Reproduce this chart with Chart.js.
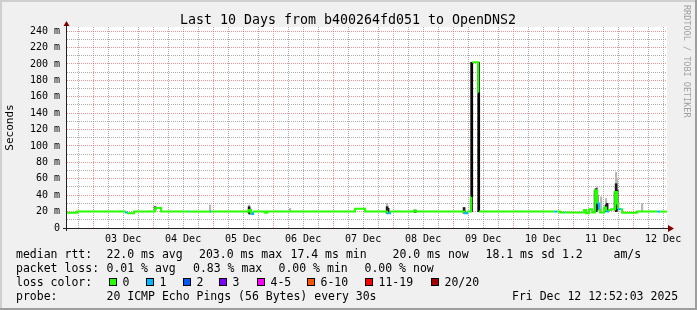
<!DOCTYPE html>
<html>
<head>
<meta charset="utf-8">
<script src="https://cdn.jsdelivr.net/npm/chart.js@4/dist/chart.umd.min.js"></script>
<style>
  html, body { margin: 0; padding: 0; background: #f0f0f0; }
</style>
</head>
<body>
<canvas id="smokeChart" width="697" height="310"></canvas>
<script>
// x values are days of December (3.5 = 03 Dec 12:00)
const dayLabels = ['03 Dec', '04 Dec', '05 Dec', '06 Dec', '07 Dec', '08 Dec', '09 Dec', '10 Dec', '11 Dec', '12 Dec'];
const xStart = 2.565;
const xEnd = 12.565;
const yMax = 245;

// median rtt (ms), drawn as steps, and lost pings (of 20) per step
const medianTime = [2.567, 2.733, 3.533, 3.567, 3.683, 4.033, 4.133, 4.583, 4.600, 4.950,
  4.967, 5.600, 5.633, 5.667, 5.867, 5.900, 7.367, 7.533, 7.900, 7.950,
  8.350, 8.383, 9.183, 9.233, 9.300, 9.317, 9.417, 9.433, 10.683, 10.733,
  10.783, 10.850, 10.867, 11.183, 11.217, 11.267, 11.317, 11.367, 11.400, 11.433,
  11.450, 11.517, 11.550, 11.583, 11.633, 11.700, 11.733, 11.750, 11.800, 11.817,
  12.067, 12.400, 12.450, 12.565];
const medianMs = [18.5, 20, 19, 18, 20, 24.5, 20, 20, 20, 20,
  20, 22, 17, 20, 18.5, 20, 23.5, 20, 18, 20,
  21, 20, 18, 20, 39, 202, 164, 20, 20, 20,
  19, 19, 19, 22, 18, 23, 19, 46, 30, 22,
  19, 25, 20, 22, 23, 44, 30, 23, 23, 18.5,
  20, 20, 20, 20];
const medianLoss = [0, 0, 1, 0, 0, 0, 0, 1, 0, 1,
  0, 0, 1, 0, 0, 0, 0, 0, 1, 0,
  0, 0, 1, 0, 0, 0, 0, 0, 1, 0,
  0, 1, 0, 0, 0, 0, 0, 0, 1, 0,
  0, 0, 1, 0, 0, 0, 0, 1, 0, 0,
  0, 1, 0, 0];

// smoke: outer spread of the pings (light) and inner spread (dark)
const smokeTime = [4.950, 5.600, 6.283, 7.900, 11.400, 11.467, 11.550, 11.717, 11.733, 12.150];
const smokeLo = [19, 17, 20, 18, 20, 21, 20, 20, 20, 21];
const smokeHi = [28, 28, 24, 30, 50, 38, 36, 68, 60, 30];
const coreTime = [4.033, 5.600, 5.617, 7.900, 7.917, 8.367, 9.183, 9.308, 9.425,
  11.367, 11.383, 11.400, 11.550, 11.567, 11.700, 11.717, 11.733];
const coreLo = [22, 18, 17, 18, 18, 19, 18, 20, 20, 20, 20, 22, 20, 21, 22, 20, 22];
const coreHi = [26, 26, 23, 26, 24, 22, 25, 202, 202, 46, 48, 40, 28, 30, 44, 54, 46];

// legend texts
const titleText = 'Last 10 Days from b400264fd051 to OpenDNS2';
const rttStats = ['22.0 ms avg', '203.0 ms max', '17.4 ms min', '20.0 ms now', '18.1 ms sd', '1.2', 'am/s'];
const lossStats = ['0.01 % avg', '0.83 % max', '0.00 % min', '0.00 % now'];
const lossLabels = ['0', '1', '2', '3', '4-5', '6-10', '11-19', '20/20'];
const lossColors = ['#26ff00', '#00b8ff', '#0059ff', '#7e00ff', '#ff00ff', '#ff5500', '#ff0000', '#a10000'];
const probeText = '20 ICMP Echo Pings (56 Bytes) every 30s';
const stampText = 'Fri Dec 12 12:52:03 2025';

const GRID = 'rgba(143,143,143,0.75)';
const MGRID = 'rgba(222,79,79,0.6)';
const MONO = '"DejaVu Sans Mono", monospace';

function lossColor(n) {
    if (n <= 3) return lossColors[n];
    if (n <= 5) return lossColors[4];
    if (n <= 10) return lossColors[5];
    if (n <= 19) return lossColors[6];
    return lossColors[7];
}

const framePlugin = {
    id: 'frame',
    beforeDraw(chart) {
        const { ctx, chartArea: a, width, height } = chart;
        ctx.save();
        ctx.fillStyle = '#f0f0f0';
        ctx.fillRect(0, 0, width, height);
        ctx.fillStyle = '#cfcfcf';
        ctx.fillRect(0, 0, width, 2);
        ctx.fillRect(0, 0, 2, height);
        ctx.fillStyle = '#9e9e9e';
        ctx.fillRect(0, height - 2, width, 2);
        ctx.fillRect(width - 2, 0, 2, height);
        ctx.fillStyle = '#ffffff';
        ctx.fillRect(a.left, a.top, a.right - a.left, a.bottom - a.top);
        ctx.restore();
    },
    afterDraw(chart) {
        const { ctx, chartArea: a } = chart;
        ctx.save();

        // axes with arrows
        ctx.strokeStyle = '#212121';
        ctx.lineWidth = 1;
        ctx.beginPath();
        ctx.moveTo(a.left - 0.5, a.bottom + 3);
        ctx.lineTo(a.left - 0.5, a.top - 1);
        ctx.moveTo(a.left - 4, a.bottom + 0.5);
        ctx.lineTo(a.right + 3, a.bottom + 0.5);
        ctx.stroke();
        ctx.fillStyle = '#800000';
        ctx.beginPath();
        ctx.moveTo(a.left - 3.5, a.top - 1);
        ctx.lineTo(a.left + 2.5, a.top - 1);
        ctx.lineTo(a.left - 0.5, a.top - 6);
        ctx.closePath();
        ctx.fill();
        ctx.beginPath();
        ctx.moveTo(a.right + 1, a.bottom - 3);
        ctx.lineTo(a.right + 1, a.bottom + 4);
        ctx.lineTo(a.right + 7, a.bottom + 0.5);
        ctx.closePath();
        ctx.fill();

        // title
        ctx.fillStyle = '#000';
        ctx.textBaseline = 'alphabetic';
        ctx.textAlign = 'center';
        ctx.font = '13.3px ' + MONO;
        ctx.fillText(titleText, 348, 24);

        // watermark
        ctx.save();
        ctx.translate(684, 5);
        ctx.rotate(Math.PI / 2);
        ctx.textAlign = 'left';
        ctx.fillStyle = '#a0a0a0';
        ctx.font = '8.5px ' + MONO;
        ctx.fillText('RRDTOOL / TOBI OETIKER', 0, 0);
        ctx.restore();

        // legend rows
        ctx.textAlign = 'left';
        ctx.fillStyle = '#000';
        ctx.font = '11.5px ' + MONO;
        ctx.fillText('median rtt:', 16, 258);
        const rttX = [106.5, 199, 290.5, 392.5, 485.5, 562, 613.5];
        rttStats.forEach((t, i) => ctx.fillText(t, rttX[i], 258));

        ctx.fillText('packet loss:', 16, 272);
        const lossX = [106.5, 193, 278.5, 364.5];
        lossStats.forEach((t, i) => ctx.fillText(t, lossX[i], 272));

        ctx.fillText('loss color:', 16, 286);
        const boxX = [109, 146, 183, 219, 257, 307, 365, 431];
        lossLabels.forEach((t, i) => {
            ctx.fillStyle = lossColors[i];
            ctx.fillRect(boxX[i], 278, 8, 8);
            ctx.strokeStyle = '#000';
            ctx.strokeRect(boxX[i] + 0.5, 278.5, 7, 7);
            ctx.fillStyle = '#000';
            ctx.fillText(t, boxX[i] + 13.5, 286);
        });

        ctx.fillText('probe:', 16, 300);
        ctx.fillText(probeText, 106.5, 300);
        ctx.fillText(stampText, 512, 300);
        ctx.restore();
    }
};

const ctx = document.getElementById('smokeChart').getContext('2d');
new Chart(ctx, {
    type: 'line',
    data: {
        datasets: [
            {
                label: 'median rtt',
                data: medianTime.map((t, i) => ({ x: t, y: medianMs[i] })),
                stepped: true,
                borderColor: lossColors[0],
                borderWidth: 2,
                pointRadius: 0,
                fill: false,
                order: 0,
                segment: {
                    borderColor: c => {
                        if (Math.abs(c.p1.parsed.y - c.p0.parsed.y) > 100) return '#000000';
                        return lossColor(medianLoss[c.p0DataIndex]);
                    }
                }
            },
            {
                type: 'bar',
                label: 'smoke core',
                data: coreTime.map((t, i) => ({ x: t, y: [coreLo[i], coreHi[i]] })),
                backgroundColor: '#1a1a1a',
                barThickness: 2,
                grouped: false,
                borderWidth: 0,
                order: 1
            },
            {
                type: 'bar',
                label: 'smoke',
                data: smokeTime.map((t, i) => ({ x: t, y: [smokeLo[i], smokeHi[i]] })),
                backgroundColor: '#b8b8b8',
                barThickness: 1.5,
                grouped: false,
                borderWidth: 0,
                order: 2
            }
        ]
    },
    options: {
        responsive: false,
        animation: false,
        events: [],
        layout: { padding: { top: 27, right: 30, left: 0, bottom: 0 } },
        plugins: {
            legend: { display: false },
            tooltip: { enabled: false }
        },
        scales: {
            x: {
                type: 'linear',
                min: xStart,
                max: xEnd,
                offset: false,
                afterBuildTicks: axis => {
                    const ticks = [];
                    for (let v = Math.ceil(xStart * 4) / 4; v <= xEnd; v += 0.25) ticks.push({ value: v });
                    axis.ticks = ticks;
                },
                afterFit: axis => { axis.height = 82; },
                grid: {
                    offset: false,
                    drawTicks: false,
                    lineWidth: 1,
                    color: c => (c.tick && Number.isInteger(c.tick.value)) ? MGRID : GRID
                },
                border: { display: false, dash: [1, 1] },
                ticks: {
                    autoSkip: false,
                    maxRotation: 0,
                    padding: 5,
                    color: '#000',
                    font: { family: MONO, size: 10 },
                    callback: v => {
                        if (Math.abs(v % 1 - 0.5) > 1e-6) return '';
                        const i = Math.round(v - 3.5);
                        return dayLabels[i] || '';
                    }
                }
            },
            y: {
                type: 'linear',
                min: 0,
                max: yMax,
                afterBuildTicks: axis => {
                    const ticks = [];
                    for (let v = 0; v <= 240; v += 10) ticks.push({ value: v });
                    axis.ticks = ticks;
                },
                afterFit: axis => { axis.width = 67; },
                grid: {
                    drawTicks: false,
                    lineWidth: 1,
                    color: c => (c.tick && c.tick.value % 20 === 0) ? MGRID : GRID
                },
                border: { display: false, dash: [1, 1] },
                title: {
                    display: true,
                    text: 'Seconds',
                    color: '#000',
                    font: { family: MONO, size: 11 },
                    padding: { top: 4, bottom: 0 }
                },
                ticks: {
                    autoSkip: false,
                    padding: 7,
                    color: '#000',
                    font: { family: MONO, size: 10 },
                    callback: v => {
                        if (v % 20 !== 0) return '';
                        return v === 0 ? '0' : v + ' m';
                    }
                }
            }
        }
    },
    plugins: [framePlugin]
});
</script>
</body>
</html>
